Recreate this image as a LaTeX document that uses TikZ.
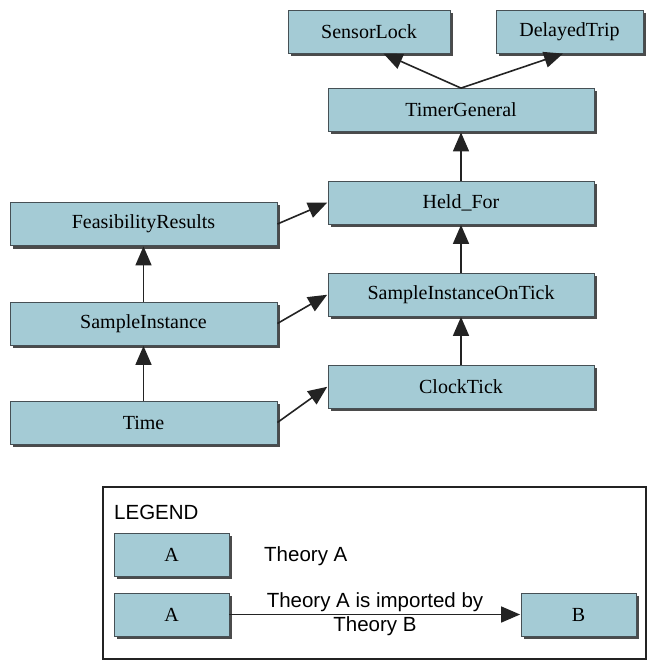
\documentclass[tikz,border=0pt]{standalone}
\usepackage{fontspec}
\setmainfont{Liberation Serif}
\setsansfont{Liberation Sans}
\usetikzlibrary{arrows.meta,shadows}

\definecolor{theoryfill}{RGB}{164,203,213}
\definecolor{theoryedge}{RGB}{70,80,85}
\definecolor{shadowgray}{RGB}{75,75,75}
\definecolor{linkcol}{RGB}{35,35,35}

\tikzset{
  theory/.style={rectangle, draw=theoryedge, line width=0.8pt, fill=theoryfill,
    minimum height=43pt, inner sep=0pt,
    font=\fontsize{20}{22}\selectfont,
    drop shadow={shadow xshift=3pt, shadow yshift=-3pt, fill=shadowgray, opacity=1}},
  wide/.style={theory, minimum width=266pt},
  import/.style={draw=linkcol, line width=1.6pt,
    -{Triangle[length=19pt,width=16pt]}, shorten >=0.5pt},
  legendtext/.style={font=\sffamily\fontsize{20.5}{24}\selectfont, inner sep=0pt}
}

\begin{document}
\begin{tikzpicture}[x=1pt,y=-1pt]
  \useasboundingbox (0,0) rectangle (648,660);

  % theory nodes
  \node[theory, minimum width=162pt] (SL) at (369,31.5) {SensorLock};
  \node[theory, minimum width=147pt] (DT) at (569.5,31.5) {DelayedTrip};
  \node[wide] (TG) at (461,110) {TimerGeneral};
  \node[wide] (HF) at (461,202.5) {Held\_For};
  \node[wide, minimum width=267pt] (FR) at (143.5,224) {FeasibilityResults};
  \node[wide] (SIT) at (461,294.5) {SampleInstanceOnTick};
  \node[wide, minimum width=267pt] (SI) at (143.5,323.5) {SampleInstance};
  \node[wide] (CT) at (461,386.5) {ClockTick};
  \node[wide, minimum width=267pt] (TM) at (143.5,422.5) {Time};

  % import links
  \draw[import] (TG.north) -- ([xshift=14pt]SL.south);
  \draw[import] (TG.north) -- ([xshift=-6pt]DT.south);
  \draw[import] (HF.north) -- (TG.south);
  \draw[import] (SIT.north) -- (HF.south);
  \draw[import] (CT.north) -- (SIT.south);
  \draw[import] (SI.north) -- (FR.south);
  \draw[import] (TM.north) -- (SI.south);
  \draw[import] (FR.east) -- (HF.west);
  \draw[import] (SI.east) -- (SIT.west);
  \draw[import] (TM.east) -- (CT.west);

  % legend
  \node[draw=linkcol, line width=1.8pt, rectangle, minimum width=543pt,
        minimum height=172pt, inner sep=0pt] (LG) at (374.5,573) {};
  \node[legendtext, anchor=west] (LGT) at (114,512) {LEGEND};
  \node[theory, minimum width=115pt] (LA) at (171.5,554.5) {A};
  \node[legendtext, anchor=west] (LAT) at (264,556) {Theory A};
  \node[theory, minimum width=115pt] (LA2) at (171.5,614.5) {A};
  \node[theory, minimum width=115pt] (LB) at (578.5,614.5) {B};
  \draw[import] (LA2.east) -- (LB.west)
    node[midway, legendtext, align=center] (LIT) {Theory A is imported by\\Theory B};
\end{tikzpicture}
\end{document}
